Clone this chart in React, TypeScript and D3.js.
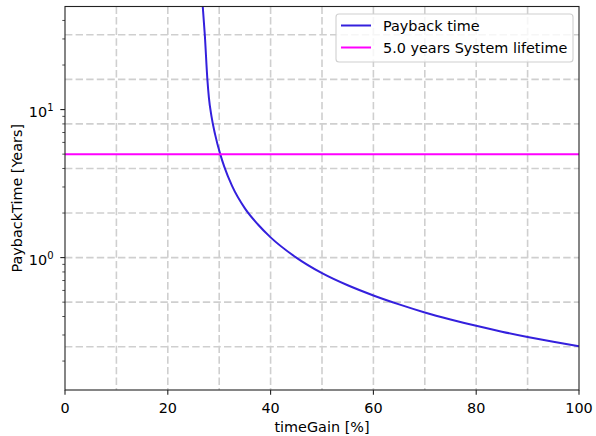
import React from "react";
import * as d3 from "d3";

// values
const timeGain = [26.6, 26.8, 27.2, 27.7, 28.0, 28.5, 29.2, 30.2, 31.0, 32.5, 35.0, 37.5, 40, 45, 50, 55, 60, 65, 70, 75, 80, 85, 90, 95, 100];
const paybackTime = [60, 49.7, 32, 16, 12, 9.0, 6.8, 5.0, 4.1, 3.05, 2.15, 1.68, 1.37, 1.0, 0.785, 0.65, 0.555, 0.483, 0.426, 0.382, 0.346, 0.316, 0.291, 0.27, 0.252];
const systemLifetime = 5.0;

const xTicks = [0, 20, 40, 60, 80, 100];
const xGrid = [10, 20, 30, 40, 50, 60, 70, 80, 90];
const yMajor = [1, 10];
const yMinor = [0.2, 0.3, 0.4, 0.5, 0.6, 0.7, 0.8, 0.9, 2, 3, 4, 5, 6, 7, 8, 9, 20, 30, 40];
const yGrid = [0.25, 0.5, 1, 2, 4, 8, 16, 32];

const W = 596;
const H = 436;
const m = { left: 65, right: 579, top: 6.5, bottom: 390 };
const font = "DejaVu Sans, sans-serif";
const fs = 14.4;
const gridStyle = { stroke: "#cfcfcf", strokeWidth: 1.6, strokeDasharray: "7.4,3.2" };

export default function App() {
  const x = d3.scaleLinear().domain([0, 100]).range([m.left, m.right]);
  const y = d3.scaleLog().domain([0.1275, 49.7]).range([m.bottom, m.top]);

  const pts = timeGain.map((t, i) => [t, paybackTime[i]] as [number, number]);
  const line = d3
    .line<[number, number]>()
    .x(d => x(d[0]))
    .y(d => y(d[1]))
    .curve(d3.curveMonotoneX);

  return (
    <svg width={W} height={H} style={{ position: "absolute", left: 0, top: 0, background: "#fff" }} fontFamily={font}>
      <defs>
        <clipPath id="plot">
          <rect x={m.left} y={m.top} width={m.right - m.left} height={m.bottom - m.top} />
        </clipPath>
      </defs>

      {/* grid */}
      <g>
        {xGrid.map(v => (
          <line key={"gx" + v} x1={x(v)} x2={x(v)} y1={m.top} y2={m.bottom} {...gridStyle} />
        ))}
        {yGrid.map(v => (
          <line key={"gy" + v} x1={m.left} x2={m.right} y1={y(v)} y2={y(v)} {...gridStyle} />
        ))}
      </g>

      {/* series */}
      <g clipPath="url(#plot)">
        <path d={line(pts) || ""} fill="none" stroke="#3420dd" strokeWidth={2} />
        <line x1={m.left} x2={m.right} y1={y(systemLifetime)} y2={y(systemLifetime)} stroke="#ff00ff" strokeWidth={2} />
      </g>

      {/* spines */}
      <rect x={m.left} y={m.top} width={m.right - m.left} height={m.bottom - m.top} fill="none" stroke="#222" strokeWidth={1.1} />

      {/* x axis */}
      {xTicks.map(v => (
        <g key={"xt" + v}>
          <line x1={x(v)} x2={x(v)} y1={m.bottom} y2={m.bottom + 4.7} stroke="#222" strokeWidth={1.1} />
          <text x={x(v)} y={413} fontSize={fs} textAnchor="middle" fill="#000">{v}</text>
        </g>
      ))}
      <text x={(m.left + m.right) / 2} y={432} fontSize={fs} textAnchor="middle" fill="#000">timeGain [%]</text>

      {/* y axis */}
      {yMinor.map(v => (
        <line key={"ym" + v} x1={m.left - 2.7} x2={m.left} y1={y(v)} y2={y(v)} stroke="#222" strokeWidth={0.8} />
      ))}
      {yMajor.map(v => (
        <g key={"yt" + v}>
          <line x1={m.left - 4.7} x2={m.left} y1={y(v)} y2={y(v)} stroke="#222" strokeWidth={1.1} />
          <text x={m.left - 11.5} y={y(v) + 7.5} fontSize={fs} textAnchor="end" fill="#000">
            10
            <tspan dy={-6.5} fontSize={10}>{Math.round(Math.log10(v))}</tspan>
          </text>
        </g>
      ))}
      <text
        transform={`translate(22,${(m.top + m.bottom) / 2}) rotate(-90)`}
        fontSize={fs}
        textAnchor="middle"
        fill="#000"
      >
        PaybackTime [Years]
      </text>

      {/* legend */}
      <g>
        <rect x={336} y={14} width={237} height={48} rx={3} fill="#fff" fillOpacity={0.8} stroke="#d0d0d0" strokeWidth={1.1} />
        <line x1={341} x2={371} y1={25.5} y2={25.5} stroke="#3420dd" strokeWidth={2} />
        <text x={383} y={30.8} fontSize={fs} fill="#000">Payback time</text>
        <line x1={341} x2={371} y1={47.5} y2={47.5} stroke="#ff00ff" strokeWidth={2} />
        <text x={383} y={52.8} fontSize={fs} fill="#000">{systemLifetime.toFixed(1)} years System lifetime</text>
      </g>
    </svg>
  );
}
